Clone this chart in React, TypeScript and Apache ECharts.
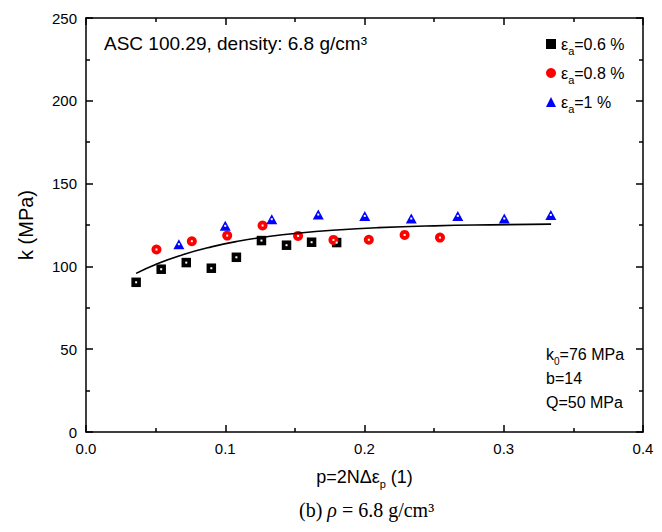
import React, { useEffect, useRef } from "react";
import * as echarts from "echarts";

const sqX = [0.036, 0.054, 0.072, 0.09, 0.108, 0.126, 0.144, 0.162, 0.18];
const sqY = [90.4, 98.3, 102.3, 98.9, 105.5, 115.6, 112.8, 114.6, 114.4];
const ciX = [0.0506, 0.076, 0.1014, 0.1268, 0.1523, 0.1777, 0.2031, 0.2288, 0.2542];
const ciY = [110.2, 115.2, 118.6, 124.7, 118.4, 116.0, 116.1, 119.0, 117.4];
const trX = [0.0667, 0.1, 0.1334, 0.1668, 0.2002, 0.2336, 0.267, 0.3004, 0.3338];
const trY = [113.4, 124.5, 128.5, 131.3, 130.5, 128.9, 130.5, 128.9, 131.1];
// Fitted curve
const fitX = [0.036, 0.05, 0.07, 0.09, 0.11, 0.13, 0.15, 0.18, 0.21, 0.25, 0.29, 0.334];
const fitY = [95.8, 101.2, 107.2, 111.8, 115.3, 117.9, 119.9, 122.0, 123.4, 124.5, 125.1, 125.5];

const seriesNames = ["εa=0.6 %", "εa=0.8 %", "εa=1 %"];
const legendValues = ["=0.6 %", "=0.8 %", "=1 %"];

const SANS = "'Liberation Sans', Arial, sans-serif";
const SERIF = "'Liberation Serif', 'Times New Roman', serif";

const zip = (xs: number[], ys: number[]) => xs.map((x, i) => [x, ys[i]]);

export default function App() {
  const ref = useRef<HTMLDivElement>(null);
  useEffect(() => {
    if (!ref.current) return;
    const chart = echarts.init(ref.current, undefined, { renderer: "svg" });
    const mk = () => ({
      axisLine: { show: true, onZero: false, lineStyle: { color: "#000", width: 1.5 } },
      axisTick: { show: true, inside: true, length: 7, lineStyle: { color: "#000", width: 1.5 } },
      minorTick: { show: true, splitNumber: 2, length: 4, lineStyle: { color: "#000", width: 1.5 } },
      splitLine: { show: false },
      minorSplitLine: { show: false },
    });
    const label = { color: "#000", fontSize: 15, fontFamily: SANS };
    const dots = [...zip(sqX, sqY), ...zip(ciX, ciY), ...zip(trX, trY)];
    chart.setOption({
      animation: false,
      backgroundColor: "#fff",
      grid: { left: 86, right: 19, top: 18, bottom: 100, containLabel: false },
      xAxis: [
        {
          type: "value", min: 0, max: 0.4, interval: 0.1, position: "bottom",
          ...mk(),
          axisLabel: { ...label, margin: 9, formatter: (v: number) => v.toFixed(1) },
          name: "{n|p=2NΔε}{s|p}{n| (1)}", nameLocation: "middle", nameGap: 33,
          nameTextStyle: {
            rich: {
              n: { fontSize: 18, fontFamily: SANS, color: "#000", lineHeight: 24 },
              s: { fontSize: 11, fontFamily: SANS, color: "#000", lineHeight: 10, verticalAlign: "bottom" },
            },
          },
        },
        {
          type: "value", min: 0, max: 0.4, interval: 0.1, position: "top",
          ...mk(),
          axisLabel: { show: false },
        },
      ],
      yAxis: [
        {
          type: "value", min: 0, max: 250, interval: 50, position: "left",
          ...mk(),
          axisLabel: { ...label, margin: 9 },
          name: "k (MPa)", nameLocation: "middle", nameGap: 50,
          nameTextStyle: { fontSize: 20, fontFamily: SANS, color: "#000" },
        },
        {
          type: "value", min: 0, max: 250, interval: 50, position: "right",
          ...mk(),
          axisLabel: { show: false },
        },
      ],
      legend: {
        data: seriesNames,
        orient: "vertical",
        left: 541,
        top: 31,
        itemWidth: 10,
        itemHeight: 10,
        itemGap: 9,
        formatter: (name: string) => {
          const i = seriesNames.indexOf(name);
          return `{e|ε}{s|a}{e|${legendValues[i]}}`;
        },
        textStyle: {
          rich: {
            e: { fontSize: 16, fontFamily: SANS, color: "#000", lineHeight: 24 },
            s: { fontSize: 11, fontFamily: SANS, color: "#000", lineHeight: 8, verticalAlign: "bottom" },
          },
        },
      },
      series: [
        {
          name: seriesNames[0], type: "scatter", symbol: "rect", symbolSize: 9.5,
          itemStyle: { color: "#000", opacity: 1 }, data: zip(sqX, sqY), z: 3,
        },
        {
          name: seriesNames[1], type: "scatter", symbol: "circle", symbolSize: 10,
          itemStyle: { color: "#ff0000", opacity: 1 }, data: zip(ciX, ciY), z: 3,
        },
        {
          name: seriesNames[2], type: "scatter", symbol: "triangle", symbolSize: [11, 10],
          itemStyle: { color: "#0000ff", opacity: 1 }, data: zip(trX, trY), z: 3,
        },
        {
          name: "centre", type: "scatter", symbol: "rect", symbolSize: 2, silent: true,
          itemStyle: { color: "#fff", opacity: 1 }, data: dots, z: 4,
        },
        {
          name: "fit", type: "line", smooth: true, showSymbol: false, silent: true,
          lineStyle: { color: "#000", width: 1.6 }, data: zip(fitX, fitY), z: 5,
        },
      ],
      graphic: [
        {
          type: "text", left: 104, top: 34,
          style: { text: "ASC 100.29, density: 6.8 g/cm³", fontSize: 19, fontFamily: SANS, fill: "#000" },
        },
        {
          type: "text", left: 546, top: 346,
          style: {
            text: "{m|k}{s|0}{m|=76 MPa}\n{m|b=14}\n{m|Q=50 MPa}",
            rich: {
              m: { fontSize: 16, fontFamily: SANS, fill: "#000", lineHeight: 24 },
              s: { fontSize: 10, fontFamily: SANS, fill: "#000", lineHeight: 8, verticalAlign: "bottom" },
            },
          },
        },
        {
          type: "text", left: 299, top: 500,
          style: {
            text: "{r|(b) }{i|ρ}{r| = 6.8 g/cm³}",
            rich: {
              r: { fontSize: 20, fontFamily: SERIF, fill: "#000" },
              i: { fontSize: 20, fontFamily: SERIF, fontStyle: "italic", fill: "#000" },
            },
          },
        },
      ],
    });
    return () => chart.dispose();
  }, []);
  return (
    <div
      ref={ref}
      style={{ position: "fixed", left: 0, top: 0, width: 662, height: 532, background: "#fff" }}
    />
  );
}
